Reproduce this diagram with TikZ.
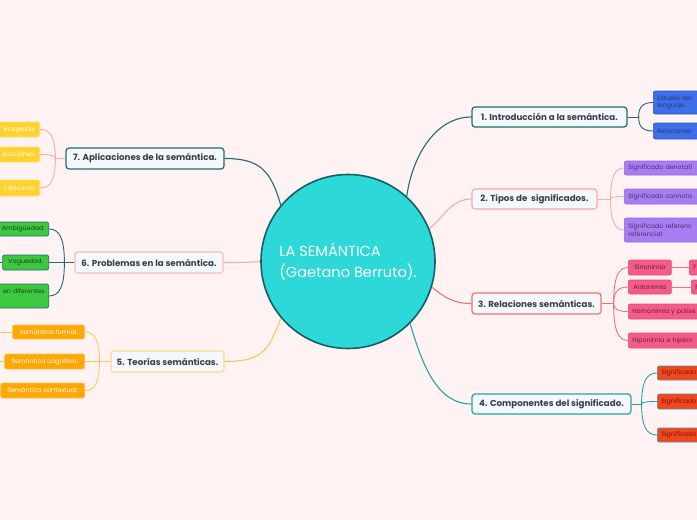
\documentclass[tikz,border=0pt]{standalone}
\usepackage{fontspec}
\setmainfont{Poppins}
\usetikzlibrary{positioning,calc,backgrounds}
\definecolor{bgPink}{HTML}{FEF3F2}
\definecolor{hubFill}{HTML}{2CD8D8}
\definecolor{hubEdge}{HTML}{185E69}
\definecolor{deepTeal}{HTML}{1E6A75}
\definecolor{salmonLine}{HTML}{F7ACA4}
\definecolor{coralLine}{HTML}{F3726C}
\definecolor{branchTeal}{HTML}{2B9FAA}
\definecolor{goldLine}{HTML}{FFC857}
\definecolor{topicFill}{HTML}{F4F8FD}
\definecolor{topicText}{HTML}{3B3E48}
\definecolor{blueLeaf}{HTML}{3E6EE9}
\definecolor{blueEdge}{HTML}{2B55C4}
\definecolor{blueText}{HTML}{263A6B}
\definecolor{purpleLeaf}{HTML}{A77EF1}
\definecolor{purpleEdge}{HTML}{9467E2}
\definecolor{purpleText}{HTML}{45316D}
\definecolor{pinkLeaf}{HTML}{F35B8B}
\definecolor{pinkEdge}{HTML}{E8487A}
\definecolor{pinkText}{HTML}{6A1F3E}
\definecolor{redLeaf}{HTML}{F4451F}
\definecolor{redText}{HTML}{6B1C0C}
\definecolor{greenLeaf}{HTML}{3DC93F}
\definecolor{greenText}{HTML}{1E3D22}
\definecolor{yellowLeaf}{HTML}{FFD22F}
\definecolor{yellowEdge}{HTML}{FFDD66}
\definecolor{orangeLeaf}{HTML}{FFA703}
\definecolor{orangeEdge}{HTML}{FFC24E}

\begin{document}
\begin{tikzpicture}[
    x=1pt,y=-1pt,
    every node/.style={font=\fontsize{6.3}{7.8}\selectfont},
    hub/.style={circle,fill=hubFill,draw=hubEdge,line width=1.6pt,minimum size=174pt,
                inner sep=0pt,align=left,text=white,font=\fontsize{14.6}{21}\selectfont},
    topic/.style={rectangle,rounded corners=3pt,fill=topicFill,line width=1.2pt,
                  minimum height=20pt,inner xsep=4pt,inner ysep=2pt,text=topicText,
                  font=\bfseries\fontsize{8.7}{10}\selectfont},
    leaf/.style={rectangle,rounded corners=2pt,line width=0.7pt,minimum height=14pt,
                 inner xsep=4pt,inner ysep=1.5pt,align=left},
    leafright/.style={leaf,anchor=west,text width=90pt,align=left},
    leafleft/.style={leaf,anchor=east,text width=70pt,align=right},
    link/.style={line width=1.1pt},
    twig/.style={line width=0.9pt},
    bracket/.style={to path={.. controls ($(\tikztostart)!0.7!(\tikztostart|-\tikztotarget)$)
                    and ($(\tikztotarget)!0.7!(\tikztostart|-\tikztotarget)$) .. (\tikztotarget)}}
  ]
  \path[use as bounding box] (0,0) rectangle (697,520);
  \begin{pgfonlayer}{background}
    \fill[bgPink] (0,0) rectangle (697,520);
  \end{pgfonlayer}
  \clip (0,0) rectangle (697,520);

  %% Central topic
  \node[hub] (hub) at (348,261.5) {LA SEMÁNTICA\\(Gaetano Berruto).};

  %% Main topics
  \node[topic,draw=deepTeal,minimum width=155pt] (t1) at (549.5,117) {1. Introducción a la semántica.};
  \node[topic,draw=salmonLine,minimum width=125pt] (t2) at (534.5,199) {2. Tipos de\ \ significados.};
  \node[topic,draw=coralLine,minimum width=129pt,minimum height=21pt] (t3) at (536.5,303.5) {3. Relaciones semánticas.};
  \node[topic,draw=branchTeal,minimum width=159pt] (t4) at (551.5,404) {4. Componentes del significado.};
  \node[topic,draw=goldLine!70,minimum width=113pt,minimum height=21pt] (t5) at (167.5,361.5) {5. Teorías semánticas.};
  \node[topic,draw=salmonLine!80,minimum width=148pt,minimum height=21pt] (t6) at (149,262.5) {6. Problemas en la semántica.};
  \node[topic,draw=deepTeal,minimum width=158pt,minimum height=21pt] (t7) at (145,158.5) {7. Aplicaciones de la semántica.};

  %% Branch 1
  \node[leafright,fill=blueLeaf,draw=blueEdge,text=blueText,minimum height=23pt] (n1a) at (653,102.5) {Estudio del\\lenguaje.};
  \node[leafright,fill=blueLeaf,draw=blueEdge,text=blueText,minimum height=16pt] (n1b) at (653,131) {Relaciones};
  %% Branch 2
  \node[leafright,fill=purpleLeaf,draw=purpleEdge,text=purpleText] (n2a) at (624,168) {Significado denotati};
  \node[leafright,fill=purpleLeaf,draw=purpleEdge,text=purpleText,minimum height=15pt] (n2b) at (624,196.5) {Significado connota};
  \node[leafright,fill=purpleLeaf,draw=purpleEdge,text=purpleText,minimum height=24pt] (n2c) at (624,230) {Significado referenc\\referencial};
  %% Branch 3
  \node[leaf,anchor=west,fill=pinkLeaf,draw=pinkEdge,text=pinkText,minimum width=43pt,minimum height=15pt] (n3a) at (628,267.5) {Sinonimia};
  \node[leafright,fill=pinkLeaf,draw=pinkEdge,text=pinkText,minimum height=15pt] (n3aa) at (689,267.5) {F};
  \node[leaf,anchor=west,fill=pinkLeaf,draw=pinkEdge,text=pinkText,minimum width=43pt] (n3b) at (628,287) {Antonimia};
  \node[leafright,fill=pinkLeaf,draw=pinkEdge,text=pinkText] (n3bb) at (691,287) {F};
  \node[leafright,fill=pinkLeaf,draw=pinkEdge,text=pinkText,minimum height=15pt] (n3c) at (628,311.5) {Homonimia y polise};
  \node[leafright,fill=pinkLeaf,draw=pinkEdge,text=pinkText,minimum height=15pt] (n3d) at (628,340.5) {Hiponimia e hipéro};
  %% Branch 4
  \node[leafright,fill=redLeaf,draw=branchTeal,text=redText] (n4a) at (657,373) {Significado};
  \node[leafright,fill=redLeaf,draw=branchTeal,text=redText,minimum height=15pt] (n4b) at (657,401.5) {Significado};
  \node[leafright,fill=redLeaf,draw=branchTeal,text=redText] (n4c) at (657,435) {Significado};
  %% Branch 5
  \node[leaf,anchor=east,fill=orangeLeaf,draw=orangeEdge,text=white,minimum width=72pt] (n5a) at (85,332) {Semántica formal.};
  \node[leaf,anchor=east,fill=orangeLeaf,draw=orangeEdge,text=white,minimum width=80pt,minimum height=15pt] (n5b) at (85,361.5) {Semántica cognitiva.};
  \node[leaf,anchor=east,fill=orangeLeaf,draw=orangeEdge,text=white,minimum width=84pt,minimum height=15pt] (n5c) at (85,390.5) {Semántica contextual.};
  %% Branch 6
  \node[leafleft,fill=greenLeaf,draw=deepTeal,text=greenText] (n6a) at (49,229) {Ambigüedad.};
  \node[leaf,anchor=east,fill=greenLeaf,draw=deepTeal,text=greenText,minimum width=46pt,minimum height=15pt] (n6b) at (49,262.5) {Vaguedad.};
  \node[leafleft,fill=greenLeaf,draw=deepTeal,text=greenText,minimum height=24pt] (n6c) at (49,296) {en diferentes\\\strut};
  %% Branch 7
  \node[leafleft,fill=yellowLeaf,draw=yellowEdge,text=white,minimum height=15pt] (n7a) at (40,129.5) {xicografía.};
  \node[leafleft,fill=yellowLeaf,draw=yellowEdge,text=white,minimum height=15pt] (n7b) at (40,154.5) {ducciones.};
  \node[leafleft,fill=yellowLeaf,draw=yellowEdge,text=white,minimum height=16pt] (n7c) at (40,188) {l discurso.};

  %% Junctions
  \coordinate (j1) at ([xshift=11pt]t1.east);
  \coordinate (j2) at ([xshift=13pt]t2.east);
  \coordinate (j3) at ([xshift=12pt]t3.east);
  \coordinate (j4) at ([xshift=10pt]t4.east);
  \coordinate (j5) at ([xshift=-11pt]t5.west);
  \coordinate (j6) at ([xshift=-10pt]t6.west);
  \coordinate (j7) at ([xshift=-10pt]t7.west);
  \coordinate (e5a) at ([xshift=-20pt]n5a.west);
  \coordinate (e5b) at ([xshift=-20pt]n5b.west);
  \coordinate (e6b) at ([xshift=-20pt]n6b.west);

  %% Hub to topics
  \begin{pgfonlayer}{background}
    \draw[link,deepTeal] (hub.48) .. controls +(6,-42) and +(-35,0) .. (t1.west);
    \draw[link,salmonLine] (hub.22) .. controls +(15,-12) and +(-20,0) .. (t2.west);
    \draw[link,coralLine] (hub.-17) .. controls +(12,10) and +(-18,0) .. (t3.west);
    \draw[link,branchTeal] (hub.-45) .. controls +(12,40) and +(-35,0) .. (t4.west);
    \draw[link,goldLine] (hub.-140) .. controls +(-12,35) and +(35,0) .. (t5.east);
    \draw[link,salmonLine] (hub.west) .. controls +(-15,1) and +(15,0) .. (t6.east);
    \draw[link,deepTeal] (hub.140) .. controls +(-10,-35) and +(35,0) .. (t7.east);
  \end{pgfonlayer}

  %% Topics to leaves
  \draw[twig,deepTeal] (t1.east) -- (j1);
  \foreach \k in {n1a,n1b} \draw[twig,deepTeal] (j1) to[bracket] (\k.west);
  \draw[twig,salmonLine] (t2.east) -- (j2);
  \foreach \k in {n2a,n2b,n2c} \draw[twig,salmonLine] (j2) to[bracket] (\k.west);
  \draw[twig,coralLine] (t3.east) -- (j3);
  \foreach \k in {n3a,n3b,n3c,n3d} \draw[twig,coralLine] (j3) to[bracket] (\k.west);
  \draw[twig,coralLine] (n3a.east) -- (n3aa.west);
  \draw[twig,coralLine] (n3b.east) -- (n3bb.west);
  \draw[twig,branchTeal] (t4.east) -- (j4);
  \foreach \k in {n4a,n4b,n4c} \draw[twig,branchTeal] (j4) to[bracket] (\k.west);
  \draw[twig,goldLine] (t5.west) -- (j5);
  \foreach \k in {n5a,n5b,n5c} \draw[twig,goldLine] (j5) to[bracket] (\k.east);
  \draw[twig,goldLine] (n5a.west) -- (e5a);
  \draw[twig,goldLine] (n5b.west) -- (e5b);
  \draw[twig,deepTeal] (t6.west) -- (j6);
  \foreach \k in {n6a,n6b,n6c} \draw[twig,deepTeal] (j6) to[bracket] (\k.east);
  \draw[twig,deepTeal] (n6b.west) -- (e6b);
  \draw[twig,salmonLine] (t7.west) -- (j7);
  \foreach \k in {n7a,n7b,n7c} \draw[twig,salmonLine] (j7) to[bracket] (\k.east);
\end{tikzpicture}
\end{document}
